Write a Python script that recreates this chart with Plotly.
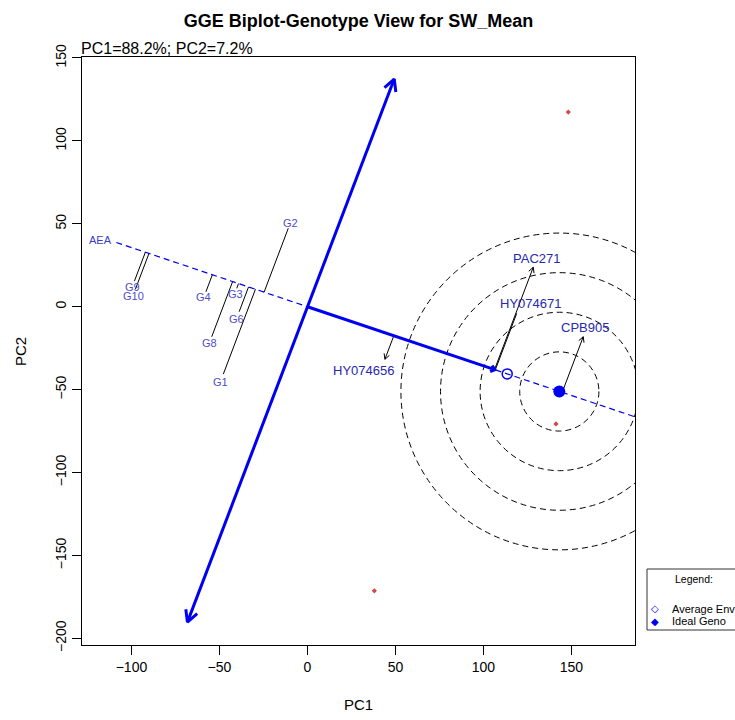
import numpy as np
import plotly.graph_objects as go

# ---- data -----------------------------------------------------------------
genotypes = ["G1", "G8", "G6", "G3", "G4", "G2", "G9", "G10",
             "HY074656", "HY074671", "PAC271", "CPB905"]
geno_pc1 = [-47.8, -54.4, -38.8, -40.2, -57.7, -10.9, -98.3, -97.7,
            44.0, 118.9, 128.3, 156.7]
geno_pc2 = [-40.6, -18.1, -3.0, 11.1, 9.0, 47.3, 15.5, 10.7,
            -31.7, -4.0, 23.8, -18.1]

env_pc1 = [148.2, 38.0, 141.2]
env_pc2 = [117.4, -171.3, -70.7]

avg_env = (113.5, -40.5)        # average environment coordinate
ideal_geno = (143.1, -51.1)     # ideal genotype on the AEA
atc_tips_pc1 = [-68.2, 49.3]    # ATC ordinate (double arrow) end points
atc_tips_pc2 = [-190.2, 137.3]
aea_extent = [-115.3, 240.0]    # AEA abscissa, distance along the axis
aea_arrow_len = 113.0           # solid arrow from origin toward average env
circle_radii = [22.5, 45.0, 67.5, 90.0]

x_ticks = [-100, -50, 0, 50, 100, 150]
y_ticks = [-200, -150, -100, -50, 0, 50, 100, 150]

# ---- styling / label placement (pixel offsets of each genotype label) -----
label_dx = [-3.3, -2.4, -2.6, -1.7, -2.7, 2.7, -1.8, -2.2, -21.7, 13.3, 3.4, 1.7]
label_dy = [-7.7, -6.0, -7.3, -6.0, -5.6, 5.0, -5.8, -7.0, -11.4, 10.0, 9.0, 9.0]
arrow_tips = {"HY074656", "PAC271", "CPB905"}

W, H = 735, 720
ML, MR, MT, MB = 82, 100, 57, 75
PW, PH = W - ML - MR, H - MT - MB
XR = [-128.1, 186.1]
YR = [-204.0, 150.6]
sx = PW / (XR[1] - XR[0])
sy = PH / (YR[1] - YR[0])

BLUE = "#0000F0"
FONT = "Liberation Sans, Arial, sans-serif"


def to_px(x, y):
    return (x - XR[0]) * sx, (YR[1] - y) * sy


def from_px(px, py):
    return XR[0] + px / sx, YR[1] - py / sy


def v_head(tail, tip, length, half_angle=28):
    """Open V arrow head at `tip`, built in screen space."""
    tx, ty = to_px(*tail)
    hx, hy = to_px(*tip)
    d = np.array([tx - hx, ty - hy])
    d /= np.hypot(*d)
    xs, ys = [], []
    for sgn in (1, -1):
        a = np.radians(half_angle) * sgn
        r = np.array([d[0] * np.cos(a) - d[1] * np.sin(a),
                      d[0] * np.sin(a) + d[1] * np.cos(a)])
        px, py = hx + length * r[0], hy + length * r[1]
        xs.append(from_px(px, py)[0])
        ys.append(from_px(px, py)[1])
    return [xs[0], tip[0], xs[1], None], [ys[0], tip[1], ys[1], None]


u = np.array(avg_env) / np.hypot(*avg_env)   # AEA direction

fig = go.Figure()

# concentric circles around the ideal genotype (round on screen)
shapes = []
for r in circle_radii:
    ry = r * sx / sy
    shapes.append(dict(type="circle", xref="x", yref="y",
                       x0=ideal_geno[0] - r, x1=ideal_geno[0] + r,
                       y0=ideal_geno[1] - ry, y1=ideal_geno[1] + ry,
                       line=dict(color="black", width=1, dash="6px,4px"),
                       layer="below"))

# AEA abscissa (dashed)
fig.add_trace(go.Scatter(
    x=[aea_extent[0] * u[0], aea_extent[1] * u[0]],
    y=[aea_extent[0] * u[1], aea_extent[1] * u[1]],
    mode="lines", line=dict(color=BLUE, width=1.2, dash="6px,4px"),
    hoverinfo="skip"))

# projections of genotypes onto the AEA
px_l, py_l, hx, hy = [], [], [], []
for g, x, y in zip(genotypes, geno_pc1, geno_pc2):
    t = x * u[0] + y * u[1]
    fx, fy = t * u[0], t * u[1]
    px_l += [fx, x, None]
    py_l += [fy, y, None]
    if g in arrow_tips:
        a, b = v_head((fx, fy), (x, y), 6)
        hx += a
        hy += b
fig.add_trace(go.Scatter(x=px_l, y=py_l, mode="lines",
                         line=dict(color="black", width=1), hoverinfo="skip"))
fig.add_trace(go.Scatter(x=hx, y=hy, mode="lines",
                         line=dict(color="black", width=1), hoverinfo="skip"))

# ATC ordinate: double-headed thick arrow through the origin
lo = (atc_tips_pc1[0], atc_tips_pc2[0])
hi = (atc_tips_pc1[1], atc_tips_pc2[1])
ax1, ay1 = v_head(lo, hi, 13)
ax2, ay2 = v_head(hi, lo, 13)
fig.add_trace(go.Scatter(x=[lo[0], hi[0], None] + ax1 + ax2,
                         y=[lo[1], hi[1], None] + ay1 + ay2,
                         mode="lines", line=dict(color=BLUE, width=3),
                         hoverinfo="skip"))

# solid arrow from origin toward the average environment
end = (aea_arrow_len * u[0], aea_arrow_len * u[1])
bx, by = v_head((0, 0), end, 5, 40)
fig.add_trace(go.Scatter(x=[0, end[0], None] + bx, y=[0, end[1], None] + by,
                         mode="lines", line=dict(color=BLUE, width=3),
                         hoverinfo="skip"))

# average environment and ideal genotype markers
fig.add_trace(go.Scatter(x=[avg_env[0]], y=[avg_env[1]], mode="markers",
                         marker=dict(symbol="circle-open", size=10,
                                     color=BLUE, line=dict(width=1.5)),
                         hoverinfo="skip"))
fig.add_trace(go.Scatter(x=[ideal_geno[0]], y=[ideal_geno[1]], mode="markers",
                         marker=dict(symbol="circle", size=12, color=BLUE),
                         hoverinfo="skip"))

# environment points
fig.add_trace(go.Scatter(x=env_pc1, y=env_pc2, mode="markers",
                         marker=dict(symbol="diamond", size=4, color="#d04848"),
                         hoverinfo="skip"))

annotations = []
for g, x, y, dx, dy in zip(genotypes, geno_pc1, geno_pc2, label_dx, label_dy):
    hybrid = g.startswith(("HY", "PAC", "CPB"))
    annotations.append(dict(
        x=x, y=y, xref="x", yref="y", text=g, showarrow=False,
        xanchor="center", yanchor="middle", xshift=dx, yshift=dy,
        font=dict(family=FONT, size=13 if hybrid else 11,
                  color="#2828b0" if hybrid else "#4c4cd0")))

annotations.append(dict(x=aea_extent[0] * u[0], y=aea_extent[0] * u[1],
                        xref="x", yref="y", text="AEA", showarrow=False,
                        xanchor="right", yanchor="middle", xshift=-2, yshift=2,
                        font=dict(family=FONT, size=11, color="#3a3ad0")))

# subtitle with explained variation
annotations.append(dict(x=0, y=1, xref="paper", yref="paper",
                        text="PC1=88.2%; PC2=7.2%", showarrow=False,
                        xanchor="left", yanchor="middle", xshift=-3, yshift=9,
                        font=dict(family=FONT, size=16, color="black")))


def xp(px):
    return (px - ML) / PW


def yp(py):
    return (H - MB - py) / PH


def note(px, py, text, size, color="black", xanchor="center",
         family=FONT, angle=0):
    return dict(x=xp(px), y=yp(py), xref="paper", yref="paper", text=text,
                showarrow=False, xanchor=xanchor, yanchor="middle",
                textangle=angle, font=dict(family=family, size=size,
                                           color=color))


# axis titles
annotations.append(note(ML + PW / 2, 705, "PC1", 15))
annotations.append(note(20, 352, "PC2", 15, angle=-90))

# legend box
shapes.append(dict(type="rect", xref="paper", yref="paper",
                   x0=xp(647), x1=xp(760), y0=yp(630), y1=yp(569),
                   line=dict(color="#333333", width=1), fillcolor="white"))
annotations += [
    note(694, 578.5, "Legend:", 10.5),
    note(655, 608.5, "\u25c7", 10, BLUE, family="DejaVu Sans"),
    note(670, 608.5, "Average Env", 11, xanchor="left"),
    note(655, 621, "\u25c6", 10, BLUE, family="DejaVu Sans"),
    note(670, 621, "Ideal Geno", 11, xanchor="left"),
]

axis_common = dict(showgrid=False, zeroline=False, showline=True, mirror=True,
                   linecolor="black", linewidth=1, ticks="outside", ticklen=9,
                   tickcolor="black", tickwidth=1,
                   tickfont=dict(family=FONT, size=14, color="black"))

fig.update_layout(
    width=W, height=H, autosize=False, showlegend=False,
    margin=dict(l=ML, r=MR, t=MT, b=MB, pad=0),
    paper_bgcolor="white", plot_bgcolor="white",
    title=dict(text="<b>GGE Biplot-Genotype View for SW_Mean</b>",
               x=ML / W + PW / W / 2, xanchor="center",
               y=1 - 21 / H, yanchor="middle",
               font=dict(family=FONT, size=18, color="black")),
    xaxis=dict(range=XR, tickvals=x_ticks, **axis_common),
    yaxis=dict(range=YR, tickvals=y_ticks, tickangle=-90, **axis_common),
    shapes=shapes, annotations=annotations,
)

fig.write_html("out.html")
